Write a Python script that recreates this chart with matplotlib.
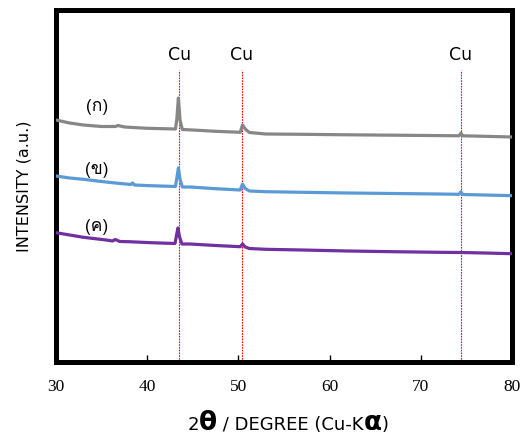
import matplotlib
matplotlib.use("Agg")
import matplotlib.pyplot as plt
from matplotlib import font_manager
from matplotlib.ft2font import FT2Font
from matplotlib.offsetbox import TextArea, HPacker, AnchoredOffsetbox

# ---------------- data ----------------
tt_a = [30, 31.5, 33, 35, 36.5, 36.8, 37.5, 40, 43.1, 43.25, 43.42, 43.6, 43.85, 45,
        47.5, 50.2, 50.45, 50.75, 51.2, 53, 57, 62, 67, 72, 74.2, 74.4, 74.6, 77, 80]
int_a = [242, 239, 237, 235.5, 235.5, 236.5, 235, 233.7, 233, 243, 264, 242, 232.5, 232,
         230.7, 229.7, 237, 233, 229.5, 228, 227.7, 227.2, 226.8, 226.4, 226.2, 229, 226.2, 225.7, 225]

tt_b = [30, 31.5, 33, 35, 36.5, 38.2, 38.4, 38.6, 40.4, 43.1, 43.25, 43.42, 43.6, 43.85, 44.7,
        47.5, 50.2, 50.45, 50.75, 51.2, 53, 57, 62, 67, 72, 74.2, 74.4, 74.6, 77, 80]
int_b = [186, 184, 182.7, 180.5, 179, 177.5, 179, 177, 176.3, 175.5, 184, 194, 183, 175, 175,
         173.3, 172, 178, 173.5, 171, 170.3, 169.7, 169, 168.5, 168, 167.7, 170.3, 167.5, 167, 166.3]

tt_c = [30, 31.5, 33, 35.5, 36.2, 36.5, 37, 38, 40.4, 43.05, 43.2, 43.37, 43.55, 43.8, 44.7,
        47.5, 50.2, 50.45, 50.75, 51.2, 53, 57, 62, 67, 72, 74.4, 77, 80]
int_c = [129.3, 127, 124.7, 122, 121, 122.5, 120.5, 120.3, 119.3, 118.5, 126, 134, 125, 118, 118,
         116.5, 115.3, 118, 115, 113.5, 112.7, 112, 111, 110.3, 109.7, 109.5, 109, 108.3]

series_labels = ["(ก)", "(ข)", "(ค)"]
label_pos_x = [34.5, 34.5, 34.5]
label_pos_y = [255, 192, 135]

cu_positions = [43.5, 50.4, 74.4]
cu_label = "Cu"
xticks = [30, 40, 50, 60, 70, 80]

colors = ["#878787", "#5B9BD5", "#7030A0"]

# ---------------- font with Thai glyphs ----------------
thai_font = None
for f in font_manager.fontManager.ttflist:
    try:
        cm = FT2Font(f.fname).get_charmap()
        if 0x0E01 in cm and 0x0E02 in cm and 0x0E04 in cm:
            thai_font = f.name
            break
    except Exception:
        pass
label_family = [thai_font, "DejaVu Sans"] if thai_font else ["DejaVu Sans"]

# ---------------- figure ----------------
fig = plt.figure(figsize=(5.26, 4.36), dpi=100)
ax = fig.add_axes([56 / 526, 1 - 362 / 436, (512 - 56) / 526, (362 - 10) / 436])

for xs, ys, c in zip([tt_a, tt_b, tt_c], [int_a, int_b, int_c], colors):
    ax.plot(xs, ys, color=c, lw=2.3, solid_joinstyle="round", zorder=3)

for cp in cu_positions:
    ax.plot([cp, cp], [0, 292], color="red", lw=0.8, ls=(0, (1.5, 1)), zorder=2)
    ax.text(cp, 307, cu_label, ha="center", va="center", fontsize=12.5,
            family="DejaVu Sans", color="black")

for lx, ly, lab in zip(label_pos_x, label_pos_y, series_labels):
    ax.text(lx, ly, lab, ha="center", va="center", fontsize=12.5, family=label_family)

ax.set_xlim(30, 80)
ax.set_ylim(0, 352)
ax.set_xticks(xticks)
ax.set_xticklabels([str(t) for t in xticks], family="Liberation Serif", fontsize=12.5)
ax.set_yticks([])
ax.tick_params(axis="x", direction="in", length=5, width=1, pad=12, top=False)
for s in ax.spines.values():
    s.set_linewidth(3.6)

fig.text(24 / 526, 1 - 186 / 436, "INTENSITY (a.u.)", rotation=90, ha="center", va="center",
         fontsize=11.5, family="DejaVu Sans")

parts = [("2", 13, "normal"), ("θ", 19, "bold"), (" / DEGREE (Cu-K", 13, "normal"),
         ("α", 19, "bold"), (")", 13, "normal")]
boxes = [TextArea(t, textprops=dict(fontsize=s, fontweight=w, family="DejaVu Sans"))
         for t, s, w in parts]
pack = HPacker(children=boxes, align="baseline", pad=0, sep=0)
anch = AnchoredOffsetbox(loc="center", child=pack, frameon=False, pad=0,
                         bbox_to_anchor=(288 / 526, 1 - 423 / 436),
                         bbox_transform=fig.transFigure, borderpad=0)
fig.add_artist(anch)

fig.savefig("out.png", dpi=100)
